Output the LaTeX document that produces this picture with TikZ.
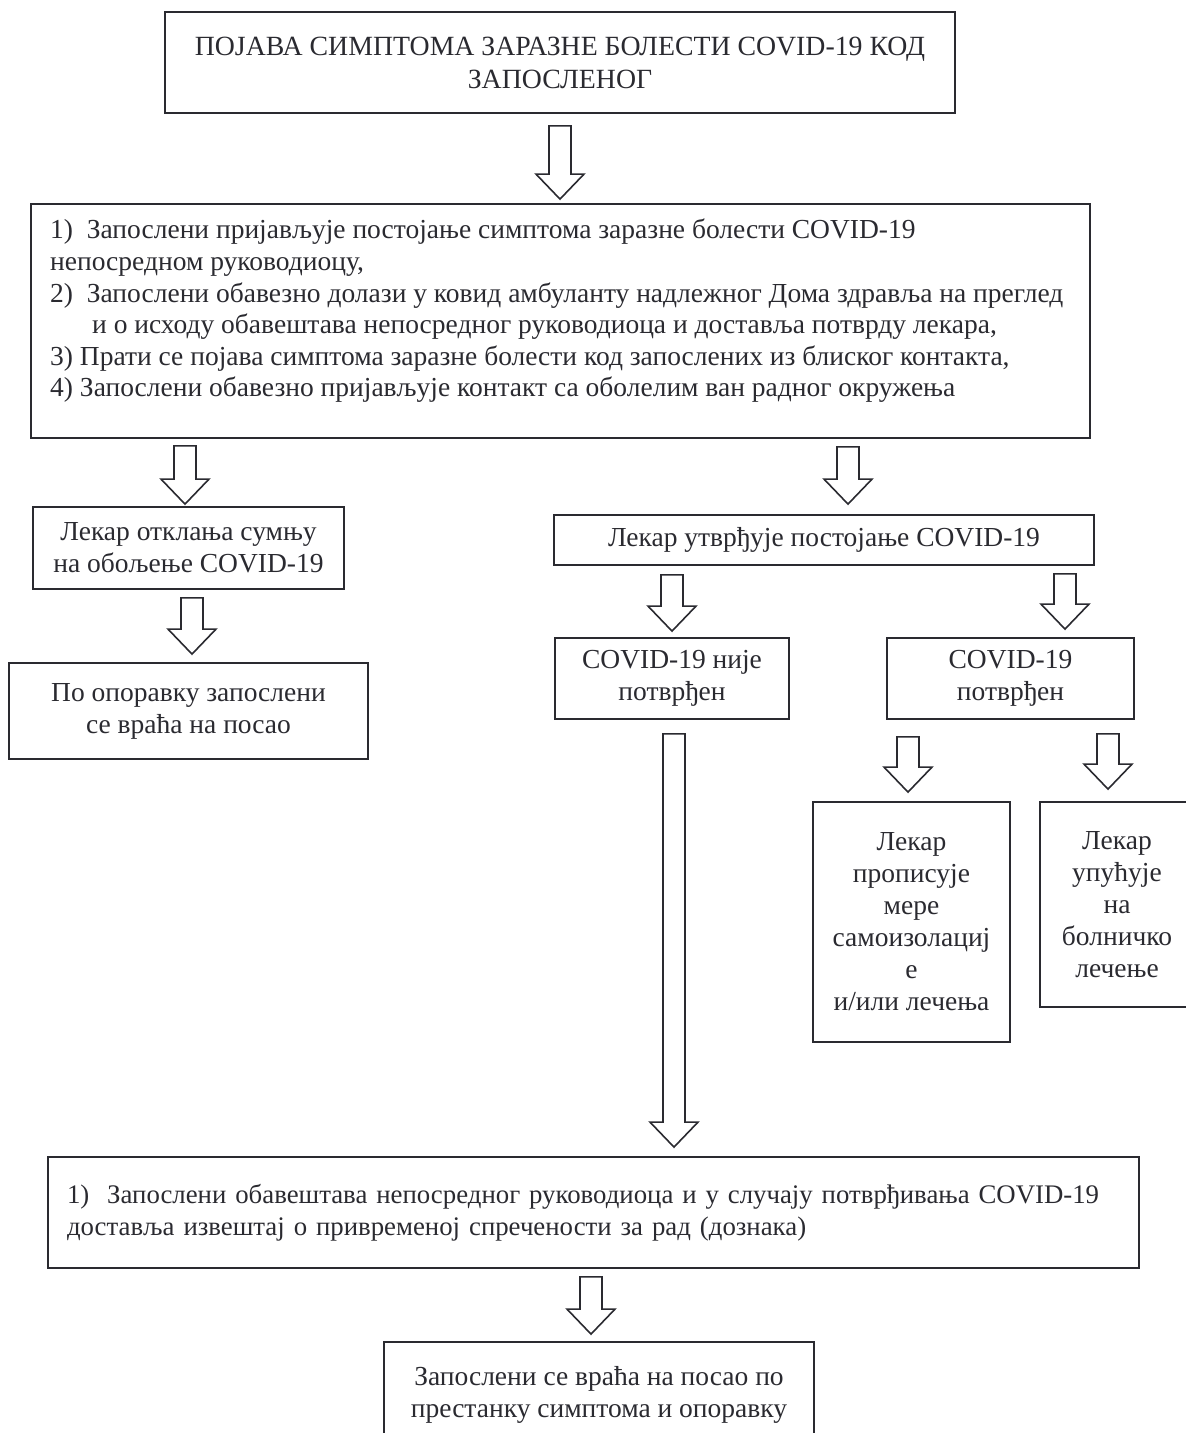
\documentclass[tikz,border=0pt]{standalone}
\usepackage{fontspec}
\setmainfont{Liberation Serif}
\usetikzlibrary{calc}
\definecolor{ink}{HTML}{2A2A30}
\begin{document}
\begin{tikzpicture}[x=1pt,y=-1pt,
  box/.style={draw=ink, line width=1.8pt, rectangle, inner sep=0pt, text=ink, align=center,
    font=\fontsize{27.5}{32}\selectfont},
  txt/.style={inner sep=0pt, text=ink, align=left, font=\fontsize{27.5}{31.6}\selectfont},
  fat/.style={draw=ink, fill=white, line width=1.6pt, line join=miter,
    to path={let \p1=(\tikztostart), \p2=(\tikztotarget) in
      (\x1-11pt,\y1) -- (\x1-11pt,\y2+25pt) -- (\x1-24pt,\y2+25pt) -- (\x1,\y2)
      -- (\x1+24pt,\y2+25pt) -- (\x1+11pt,\y2+25pt) -- (\x1+11pt,\y1) -- cycle}}
]
\useasboundingbox (0,0) rectangle (1186,1433);
\clip (0,0) rectangle (1186,1433);

\node[box, minimum width=790, minimum height=101, font=\fontsize{27.8}{33}\selectfont] (top) at (560,62.5)
  {ПОЈАВА СИМПТОМА ЗАРАЗНЕ БОЛЕСТИ COVID-19 КОД\\ЗАПОСЛЕНОГ};

\node[box, minimum width=1059, minimum height=234] (b2) at (560.5,321) {};
\node[txt, anchor=north west] (b2t) at (50,219)
  {1)\ \ Запослени пријављује постојање симптома заразне болести COVID-19\\
   непосредном руководиоцу,\\
   2)\ \ Запослени обавезно долази у ковид амбуланту надлежног Дома здравља на преглед\\
   \hspace*{42pt}и о исходу обавештава непосредног руководиоца и доставља потврду лекара,\\
   3) Прати се појава симптома заразне болести код запослених из блиског контакта,\\
   4) Запослени обавезно пријављује контакт са оболелим ван радног окружења};

\node[box, minimum width=311, minimum height=82] (lek1) at (188.5,548)
  {Лекар отклања сумњу\\на обољење COVID-19};
\node[box, minimum width=359, minimum height=96] (op) at (188.5,711)
  {По опоравку запослени\\се враћа на посао};
\node[box, minimum width=540, minimum height=50] (utv) at (824,540)
  {Лекар утврђује постојање COVID-19};
\node[box, minimum width=234, minimum height=81] (nije) at (672,678.5)
  {COVID-19 није\\потврђен};
\node[box, minimum width=247, minimum height=81] (potv) at (1010.5,678.5)
  {COVID-19\\потврђен};
\node[box, minimum width=197, minimum height=240] (prop) at (911.5,922)
  {Лекар\\прописује\\мере\\самоизолациј\\е\\и/или лечења};
\node[box, minimum width=154, minimum height=205] (upu) at (1117,904.5)
  {Лекар\\упућује\\на\\болничко\\лечење};
\node[box, minimum width=1091, minimum height=111, align=left, text width=1053,
  font=\fontsize{26.8}{32}\selectfont] (obav) at (593.5,1212.5)
  {1)\ \ Запослени обавештава непосредног руководиоца и у случају потврђивања COVID-19\\
   доставља извештај о привременој спречености за рад (дознака)};
\node[box, minimum width=430, minimum height=105] (vraca) at (599,1394.5)
  {Запослени се враћа на посао по\\престанку симптома и опоравку};

\draw[fat] ($(top.south -| 560,0)+(0,12)$) to ($(b2.north -| 560,0)+(0,-4)$);
\draw[fat] ($(b2.south -| 185,0)+(0,7)$) to ($(lek1.north -| 185,0)+(0,-2)$);
\draw[fat] ($(b2.south -| 848,0)+(0,8)$) to ($(utv.north -| 848,0)+(0,-10)$);
\draw[fat] ($(lek1.south -| 192,0)+(0,8)$) to ($(op.north -| 192,0)+(0,-8)$);
\draw[fat] ($(utv.south -| 672,0)+(0,9)$) to ($(nije.north -| 672,0)+(0,-6)$);
\draw[fat] ($(utv.south -| 1065,0)+(0,8)$) to ($(potv.north -| 1065,0)+(0,-8)$);
\draw[fat] ($(nije.south -| 674,0)+(0,14)$) to ($(obav.north -| 674,0)+(0,-9)$);
\draw[fat] ($(potv.south -| 908,0)+(0,17)$) to ($(prop.north -| 908,0)+(0,-9)$);
\draw[fat] ($(potv.south -| 1108,0)+(0,14)$) to ($(upu.north -| 1108,0)+(0,-12)$);
\draw[fat] ($(obav.south -| 591,0)+(0,8)$) to ($(vraca.north -| 591,0)+(0,-7)$);
\end{tikzpicture}
\end{document}
